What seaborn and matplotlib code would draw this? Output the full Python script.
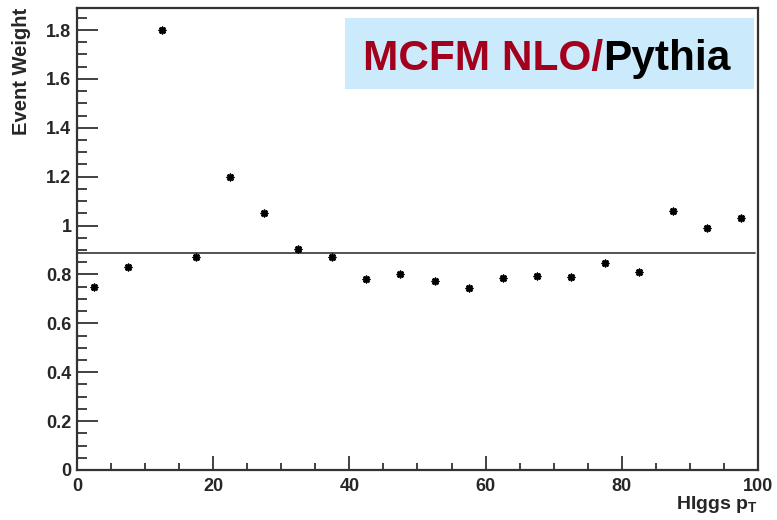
import matplotlib
matplotlib.use("Agg")
import matplotlib.pyplot as plt
from matplotlib.patches import Rectangle
from matplotlib.ticker import MultipleLocator, FormatStrFormatter
import pandas as pd
import seaborn as sns

# bin centres (Higgs pT) and the reweighting factor
pt_bins = [2.5, 7.5, 12.5, 17.5, 22.5, 27.5, 32.5, 37.5, 42.5, 47.5,
           52.5, 57.5, 62.5, 67.5, 72.5, 77.5, 82.5, 87.5, 92.5, 97.5]
weights = [0.75, 0.83, 1.80, 0.87, 1.20, 1.05, 0.905, 0.87, 0.78, 0.80,
           0.773, 0.744, 0.786, 0.793, 0.791, 0.847, 0.809, 1.058, 0.988, 1.031]
mean_weight = 0.886

df = pd.DataFrame({"pt": pt_bins, "weight": weights})

sns.set_theme(style="ticks")
plt.rcParams["font.family"] = ["Liberation Sans", "DejaVu Sans"]
plt.rcParams["font.weight"] = "bold"
plt.rcParams["mathtext.fontset"] = "custom"
plt.rcParams["mathtext.rm"] = "Liberation Sans:bold"
plt.rcParams["mathtext.it"] = "Liberation Sans:bold"
plt.rcParams["mathtext.default"] = "rm"

fig = plt.figure(figsize=(7.77, 5.2), dpi=100)
ax = fig.add_axes([0.0991, 0.0962, 0.8764, 0.8884])

sns.scatterplot(data=df, x="pt", y="weight", ax=ax, marker=(8, 2, 0),
                s=20, color="black", edgecolor="black", linewidth=1.3, zorder=3)
ax.axhline(mean_weight, xmin=0, xmax=0.996, color="#444444", lw=1.3, zorder=2)

ax.set_xlim(0, 100)
ax.set_ylim(0, 1.89)
ax.xaxis.set_major_locator(MultipleLocator(20))
ax.xaxis.set_minor_locator(MultipleLocator(5))
ax.yaxis.set_major_locator(MultipleLocator(0.2))
ax.yaxis.set_minor_locator(MultipleLocator(0.05))
ax.yaxis.set_major_formatter(FormatStrFormatter("%g"))

ax.tick_params(axis="both", which="both", direction="in", color="#333333",
               width=1.3, labelsize=13)
ax.tick_params(axis="y", which="major", length=15, pad=4)
ax.tick_params(axis="y", which="minor", length=7.5)
ax.tick_params(axis="x", which="major", length=10, pad=6)
ax.tick_params(axis="x", which="minor", length=5)
for lbl in ax.get_xticklabels() + ax.get_yticklabels():
    lbl.set_fontweight("bold")

for sp in ax.spines.values():
    sp.set_visible(True)
    sp.set_color("#333333")
    sp.set_linewidth(1.6)

ax.set_xlabel("HIggs p$_{T}$", fontsize=14, fontweight="bold", ha="right", va="center")
ax.xaxis.set_label_coords(1.0, -0.074)
ax.set_ylabel("Event Weight", fontsize=14.5, fontweight="bold", ha="right", va="center")
ax.yaxis.set_label_coords(-0.081, 1.0)

# the title banner
ax.add_patch(Rectangle((0.394, 0.825), 0.6, 0.153, transform=ax.transAxes,
                       facecolor="#cbeafb", edgecolor="none", zorder=1))
t1 = ax.text(0.42, 0.866, "MCFM NLO/", transform=ax.transAxes, fontsize=30.5,
             fontweight="bold", color="#a3001e", ha="left", va="baseline", zorder=4)
ax.annotate("Pythia", xy=(1, 0.866), xycoords=(t1, "axes fraction"),
            fontsize=30.5, fontweight="bold", color="black",
            ha="left", va="baseline", zorder=4)

fig.savefig("out.png", dpi=100)
